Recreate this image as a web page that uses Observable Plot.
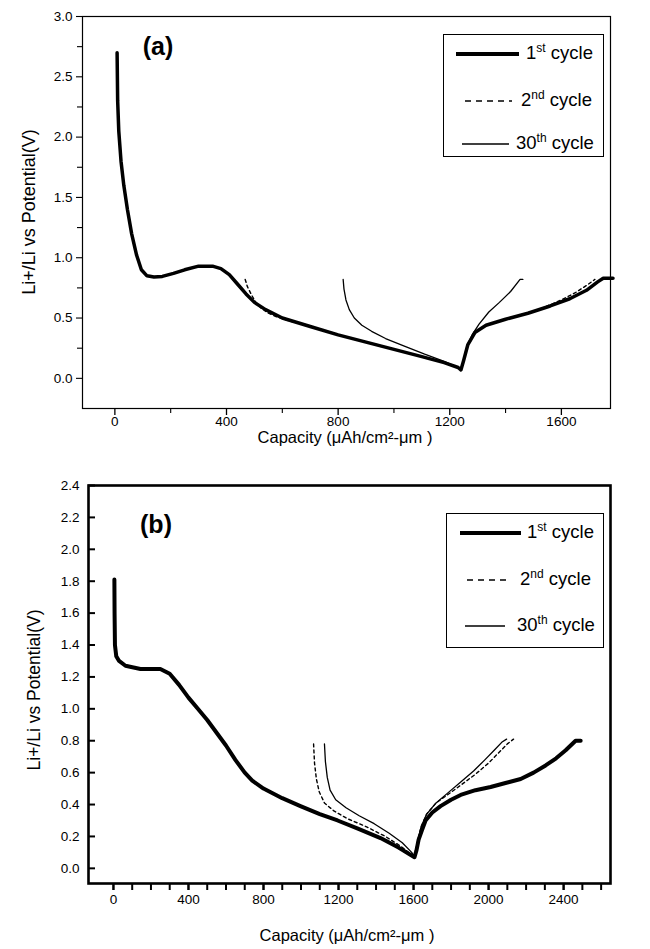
<!DOCTYPE html>
<html><head><meta charset="utf-8">
<script src="https://cdn.jsdelivr.net/npm/d3@7"></script>
<script src="https://cdn.jsdelivr.net/npm/@observablehq/plot@0.6"></script>
<style>
body{margin:0;background:#fff;}
#wrap{position:relative;width:650px;height:949px;font-family:"Liberation Sans",Arial,sans-serif;color:#000;overflow:hidden;}
#wrap svg{display:block;}
.abs{position:absolute;white-space:nowrap;line-height:1;}
.rot{transform:translate(-50%,-50%) rotate(-90deg);}
.ctr{transform:translate(-50%,-50%);}
.lg{position:absolute;border:1px solid #000;background:#fff;box-sizing:border-box;}
.lt{position:absolute;font-size:18.5px;white-space:nowrap;line-height:1;transform:translateY(-55%);}
.lt sup{font-size:12px;vertical-align:7px;line-height:0;}
</style></head><body><div id="wrap"></div>
<script>
// ---------- data: panel (a) ----------
const a1Cap = [8,10,14,22,32,45,60,78,95,115,140,170,210,250,300,350,380,410,440,470,500,540,600,700,800,900,1000,1100,1180,1230,1240,1250,1265,1290,1330,1400,1480,1560,1630,1690,1730,1750,1785];
const a1V   = [2.7,2.3,2.05,1.8,1.6,1.4,1.2,1.02,0.9,0.85,0.84,0.845,0.87,0.9,0.93,0.93,0.91,0.86,0.78,0.7,0.63,0.57,0.5,0.43,0.36,0.3,0.24,0.18,0.13,0.09,0.07,0.15,0.28,0.38,0.44,0.49,0.54,0.6,0.66,0.73,0.8,0.83,0.83];
const a2Cap = [467,475,490,505,525,550,580,620,700,800,900,1000,1100,1180,1230,1240,1250,1265,1290,1330,1400,1480,1540,1600,1650,1690,1720];
const a2V   = [0.82,0.76,0.69,0.63,0.58,0.54,0.51,0.48,0.43,0.36,0.3,0.24,0.18,0.13,0.09,0.07,0.15,0.28,0.38,0.44,0.49,0.54,0.59,0.65,0.71,0.77,0.82];
const a30Cap = [818,821,828,840,858,885,920,970,1035,1110,1180,1230,1240,1250,1262,1280,1305,1340,1378,1418,1452,1462];
const a30V   = [0.82,0.74,0.65,0.57,0.5,0.44,0.39,0.33,0.27,0.2,0.14,0.09,0.07,0.16,0.27,0.36,0.45,0.55,0.63,0.72,0.82,0.82];
const aXLabels = [0,400,800,1200,1600];
const aXMinor = [200,600,1000,1400];
const aYLabels = [0,0.5,1.0,1.5,2.0,2.5,3.0];
const aYMinor = [0.25,0.75,1.25,1.75,2.25,2.75];

// ---------- data: panel (b) ----------
const b1Cap = [5,6,8,15,30,64,144,250,300,350,400,450,500,550,600,650,700,740,800,900,997,1100,1195,1300,1424,1520,1605,1615,1627,1645,1664,1700,1744,1800,1851,1930,2011,2090,2171,2240,2304,2360,2411,2464,2491];
const b1V   = [1.81,1.6,1.4,1.33,1.3,1.27,1.25,1.25,1.22,1.15,1.07,1.0,0.93,0.85,0.77,0.68,0.6,0.55,0.5,0.44,0.39,0.34,0.3,0.25,0.19,0.13,0.07,0.11,0.18,0.24,0.3,0.35,0.39,0.43,0.46,0.49,0.51,0.535,0.56,0.6,0.645,0.69,0.74,0.8,0.8];
const b2Cap = [1067,1072,1082,1097,1125,1175,1250,1350,1450,1530,1585,1605,1620,1640,1670,1720,1780,1850,1930,2000,2050,2100,2133];
const b2V   = [0.78,0.66,0.56,0.48,0.41,0.36,0.31,0.26,0.2,0.14,0.09,0.07,0.16,0.26,0.34,0.41,0.46,0.52,0.59,0.66,0.72,0.78,0.81];
const b30Cap = [1125,1130,1140,1155,1185,1240,1310,1390,1470,1540,1590,1605,1620,1640,1670,1720,1780,1850,1920,1980,2030,2070,2096];
const b30V   = [0.78,0.67,0.57,0.49,0.43,0.38,0.33,0.28,0.22,0.16,0.1,0.07,0.16,0.26,0.34,0.41,0.47,0.54,0.61,0.68,0.74,0.79,0.81];
const bXLabels = [0,400,800,1200,1600,2000,2400];
const bXTicks = d3.range(0, 2601, 100);
const bYLabels = [0,0.2,0.4,0.6,0.8,1.0,1.2,1.4,1.6,1.8,2.0,2.2,2.4];

const zipS = (c, v) => c.map((x, i) => ({cap: x, v: v[i]}));
const fmt1 = d3.format(".1f");
const FONT = "'Liberation Sans', Arial, sans-serif";
const wrap = document.getElementById("wrap");

// ---------- panel (a) ----------
const plotA = Plot.plot({
  width: 650, height: 452,
  marginLeft: 82, marginRight: 40, marginTop: 16, marginBottom: 44,
  style: {fontFamily: FONT, fontSize: "13.5px", background: "transparent", color: "#000"},
  x: {domain: [-116, 1776]},
  y: {domain: [-0.25, 3.0]},
  marks: [
    Plot.axisX({ticks: aXLabels, tickSize: 7, tickPadding: 1, tickFormat: d => String(d), label: null, fontSize: 13.5, strokeWidth: 1.3}),
    Plot.axisX({ticks: aXMinor, tickSize: 5, tickFormat: () => "", label: null, strokeWidth: 1.1}),
    Plot.axisY({ticks: aYLabels, tickSize: 6, tickPadding: 4, tickFormat: fmt1, label: null, fontSize: 13.5, strokeWidth: 1.1}),
    Plot.axisY({ticks: aYMinor, tickSize: 5, tickFormat: () => "", label: null, strokeWidth: 1.1}),
    Plot.line(zipS(a30Cap, a30V), {x: "cap", y: "v", stroke: "#000", strokeWidth: 1.3}),
    Plot.line(zipS(a2Cap, a2V), {x: "cap", y: "v", stroke: "#000", strokeWidth: 1.4, strokeDasharray: "3,3"}),
    Plot.line(zipS(a1Cap, a1V), {x: "cap", y: "v", stroke: "#000", strokeWidth: 3.5, strokeLinejoin: "round"}),
    Plot.frame({stroke: "#000", strokeWidth: 1.2})
  ]
});
plotA.style.position = "absolute"; plotA.style.left = "0px"; plotA.style.top = "0px";
wrap.appendChild(plotA);

// ---------- panel (b) ----------
const plotB = Plot.plot({
  width: 650, height: 497,
  marginLeft: 88, marginRight: 40, marginTop: 33, marginBottom: 66,
  style: {fontFamily: FONT, fontSize: "13.5px", background: "transparent", color: "#000"},
  x: {domain: [-133, 2650]},
  y: {domain: [-0.095, 2.4]},
  marks: [
    Plot.axisX({ticks: bXTicks, tickSize: 7, tickFormat: () => "", label: null, strokeWidth: 2}),
    Plot.axisX({ticks: bXLabels, tickSize: 7, tickPadding: 4, tickFormat: d => String(d), label: null, fontSize: 13.5, strokeWidth: 2}),
    Plot.axisY({ticks: bYLabels, tickSize: 0, tickPadding: 9, tickFormat: fmt1, label: null, fontSize: 13.5}),
    Plot.tickY(bYLabels, {y: d => d, stroke: "#000", strokeWidth: 2, insetRight: 650 - 88 - 40 - 7}),
    Plot.line(zipS(b30Cap, b30V), {x: "cap", y: "v", stroke: "#000", strokeWidth: 1.3}),
    Plot.line(zipS(b2Cap, b2V), {x: "cap", y: "v", stroke: "#000", strokeWidth: 1.4, strokeDasharray: "3,3"}),
    Plot.line(zipS(b1Cap, b1V), {x: "cap", y: "v", stroke: "#000", strokeWidth: 4, strokeLinejoin: "round"}),
    Plot.frame({stroke: "#000", strokeWidth: 2.6})
  ]
});
plotB.style.position = "absolute"; plotB.style.left = "0px"; plotB.style.top = "452px";
wrap.appendChild(plotB);

// ---------- text overlays ----------
function addText(html, left, top, cls, size, weight) {
  const d = document.createElement("div");
  d.className = "abs " + cls;
  d.style.left = left + "px"; d.style.top = top + "px";
  d.style.fontSize = size + "px";
  if (weight) d.style.fontWeight = weight;
  d.innerHTML = html;
  wrap.appendChild(d);
}
const yTitle = "Li+/Li vs Potential(V)";
const xTitle = "Capacity (μAh/cm²-μm )";
addText(yTitle, 29, 212, "rot", 18);
addText(yTitle, 35, 690, "rot", 17.5);
addText(xTitle, 345, 437, "ctr", 16.5);
addText(xTitle, 347, 935, "ctr", 16.5);
addText("(a)", 158, 46, "ctr", 25, "bold");
addText("(b)", 156, 524, "ctr", 25, "bold");

// ---------- legends ----------
const legendLabels = ["1<sup>st</sup> cycle", "2<sup>nd</sup> cycle", "30<sup>th</sup> cycle"];
const legendStyles = [
  {w: 4, dash: null},
  {w: 1.4, dash: "6,5"},
  {w: 1.4, dash: null}
];
function addLegend(box, rows, bw) {
  const b = document.createElement("div");
  b.className = "lg";
  b.style.left = box[0] + "px"; b.style.top = box[1] + "px";
  b.style.width = (box[2] - box[0]) + "px"; b.style.height = (box[3] - box[1]) + "px";
  b.style.borderWidth = bw + "px";
  wrap.appendChild(b);
  const svg = d3.select(wrap).append("svg")
    .attr("width", 650).attr("height", 949)
    .style("position", "absolute").style("left", "0px").style("top", "0px");
  rows.forEach((r, i) => {
    svg.append("line").attr("x1", r.x1).attr("x2", r.x2).attr("y1", r.y).attr("y2", r.y)
      .attr("stroke", "#000").attr("stroke-width", legendStyles[i].w)
      .attr("stroke-dasharray", legendStyles[i].dash);
    const t = document.createElement("div");
    t.className = "lt";
    t.style.left = r.tx + "px"; t.style.top = r.y + "px";
    t.innerHTML = legendLabels[i];
    wrap.appendChild(t);
  });
}
addLegend([443, 34, 604, 157], [
  {x1: 456, x2: 519, y: 54, tx: 526},
  {x1: 465, x2: 512, y: 101, tx: 521},
  {x1: 462, x2: 509, y: 144, tx: 516}
], 1);
addLegend([446, 513, 604, 648], [
  {x1: 460, x2: 521, y: 533, tx: 527},
  {x1: 467, x2: 510, y: 580, tx: 520},
  {x1: 465, x2: 505, y: 626, tx: 517}
], 1.3);
</script></body></html>
